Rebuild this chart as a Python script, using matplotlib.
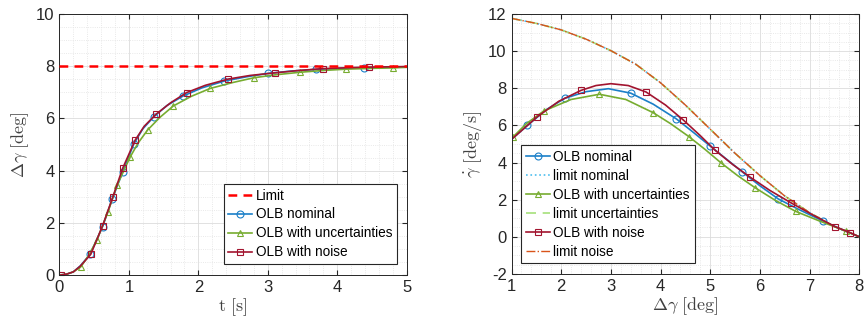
import matplotlib
matplotlib.use("Agg")
import matplotlib.pyplot as plt
from matplotlib.ticker import MultipleLocator

plt.rcParams['font.family'] = ['Liberation Sans', 'DejaVu Sans']
plt.rcParams['mathtext.fontset'] = 'cm'
plt.rcParams['axes.unicode_minus'] = False

# ---- Left: step response ----
limit_val = 8.0
t_nom = [0, 0.1, 0.2, 0.3, 0.44, 0.62, 0.76, 0.91, 1.07, 1.2, 1.36, 1.55, 1.78, 2.05, 2.37, 2.7, 3.01, 3.35, 3.70, 4.05, 4.39, 4.7, 5.0]
y_nom = [0, 0.03, 0.12, 0.35, 0.79, 1.85, 2.91, 3.95, 5.02, 5.6, 6.07, 6.5, 6.86, 7.17, 7.43, 7.6, 7.73, 7.82, 7.88, 7.92, 7.94, 7.96, 7.97]
m_nom = [4, 5, 6, 7, 8, 10, 12, 14, 16, 18, 20]

t_unc = [0, 0.1, 0.2, 0.31, 0.42, 0.54, 0.70, 0.83, 1.02, 1.13, 1.27, 1.45, 1.64, 1.9, 2.17, 2.5, 2.80, 3.1, 3.46, 3.8, 4.13, 4.5, 4.81, 5.0]
y_unc = [0, 0.03, 0.12, 0.32, 0.75, 1.34, 2.43, 3.45, 4.53, 5.05, 5.56, 6.05, 6.48, 6.85, 7.15, 7.38, 7.56, 7.67, 7.77, 7.84, 7.89, 7.92, 7.94, 7.96]
m_unc = [3, 5, 6, 7, 8, 10, 12, 14, 16, 18, 20, 22]

t_noi = [0.02, 0.1, 0.2, 0.3, 0.45, 0.62, 0.77, 0.91, 1.09, 1.22, 1.39, 1.6, 1.83, 2.1, 2.43, 2.75, 3.11, 3.45, 3.79, 4.1, 4.46, 4.75, 5.0]
y_noi = [0, 0.03, 0.12, 0.34, 0.79, 1.88, 3.0, 4.09, 5.17, 5.7, 6.16, 6.6, 6.99, 7.27, 7.51, 7.65, 7.75, 7.84, 7.91, 7.94, 7.97, 7.98, 7.99]
m_noi = [0, 4, 5, 6, 7, 8, 10, 12, 14, 16, 18, 20]

# ---- Right: phase plane ----
x_pnom = [1.0, 1.32, 1.7, 2.07, 2.5, 2.95, 3.40, 3.85, 4.32, 4.65, 4.99, 5.32, 5.65, 6.0, 6.37, 6.8, 7.27, 7.6, 8.0]
v_pnom = [5.25, 6.0, 6.85, 7.46, 7.82, 7.98, 7.74, 7.15, 6.35, 5.65, 4.91, 4.2, 3.49, 2.75, 2.04, 1.45, 0.85, 0.45, 0.0]
pm_nom = [1, 3, 6, 8, 10, 12, 14, 16]

x_punc = [1.03, 1.3, 1.65, 2.2, 2.77, 3.3, 3.85, 4.2, 4.57, 4.9, 5.21, 5.55, 5.90, 6.3, 6.72, 7.2, 7.74, 8.0]
v_punc = [5.38, 6.1, 6.78, 7.4, 7.68, 7.4, 6.69, 6.1, 5.4, 4.7, 4.0, 3.3, 2.65, 1.98, 1.37, 0.85, 0.3, 0.0]
pm_unc = [0, 2, 4, 6, 8, 10, 12, 14, 16]

x_pnoi = [1.0, 1.52, 1.95, 2.40, 2.7, 3.0, 3.35, 3.71, 4.1, 4.46, 4.8, 5.10, 5.45, 5.80, 6.2, 6.62, 7.05, 7.51, 7.82, 8.0]
v_pnoi = [5.25, 6.47, 7.3, 7.89, 8.15, 8.25, 8.15, 7.8, 7.1, 6.29, 5.45, 4.66, 3.9, 3.22, 2.5, 1.84, 1.2, 0.55, 0.22, 0.0]
pm_noi = [1, 3, 7, 9, 11, 13, 15, 17, 18]

x_lim = [1.0, 1.5, 2.0, 2.5, 3.0, 3.5, 4.0, 4.5, 5.0, 5.5, 6.0, 6.5, 7.0, 7.5, 8.0]
v_lim = [11.77, 11.5, 11.15, 10.65, 10.03, 9.3, 8.3, 7.1, 5.8, 4.5, 3.3, 2.2, 1.3, 0.55, 0.0]

C_BLUE = '#1A7FC8'
C_GREEN = '#77AC30'
C_RED = '#A2142F'
C_ORANGE = '#D95319'
C_LBLUE = '#4DBEEE'
C_LGREEN = '#A6E07A'
AXC = '#262626'

fig = plt.figure(figsize=(8.67, 3.28), dpi=100)
ax1 = fig.add_axes([0.0686, 0.1616, 0.4004, 0.7954])
ax2 = fig.add_axes([0.590, 0.165, 0.401, 0.792])

def style(ax, xmaj, xmin, ymaj, ymin):
    ax.xaxis.set_major_locator(MultipleLocator(xmaj))
    ax.xaxis.set_minor_locator(MultipleLocator(xmin))
    ax.yaxis.set_major_locator(MultipleLocator(ymaj))
    ax.yaxis.set_minor_locator(MultipleLocator(ymin))
    ax.grid(True, which='major', color='#DCDCDC', lw=0.6, ls='-')
    ax.grid(True, which='minor', color='#E2E2E2', lw=0.6, ls=':')
    ax.set_axisbelow(True)
    ax.tick_params(which='both', direction='in', top=True, right=True,
                   colors=AXC, labelsize=12, length=3.5)
    ax.tick_params(which='minor', length=0)
    for s in ax.spines.values():
        s.set_color(AXC)
        s.set_linewidth(0.7)

kw = dict(lw=1.2, ms=5, mfc='none', mew=0.8)
legkw = dict(fontsize=9.8, frameon=True, fancybox=False, framealpha=1, edgecolor=AXC,
             handlelength=1.75, handletextpad=0.25, borderpad=0.35, labelspacing=0.36,
             borderaxespad=0)

ax1.axhline(limit_val, color='#FF0000', ls=(0, (3.5, 2.5)), lw=1.8, label='Limit', zorder=5)
ax1.plot(t_nom, y_nom, color=C_BLUE, marker='o', markevery=m_nom, label='OLB nominal', **kw)
ax1.plot(t_unc, y_unc, color=C_GREEN, marker='^', markevery=m_unc, label='OLB with uncertainties', **kw)
ax1.plot(t_noi, y_noi, color=C_RED, marker='s', markevery=m_noi, label='OLB with noise', **kw)
ax1.set_xlim(0, 5)
ax1.set_ylim(0, 10)
style(ax1, 1, 0.2, 2, 0.5)
ax1.set_xlabel(r'$\mathrm{t}\ [\mathrm{s}]$', fontsize=13, color='#404040', labelpad=1)
ax1.set_ylabel(r'$\Delta\gamma\ [\mathrm{deg}]$', fontsize=13, color='#404040', labelpad=4)
leg1 = ax1.legend(loc='lower right', bbox_to_anchor=(0.972, 0.042), **legkw)
leg1.get_frame().set_linewidth(0.8)

ax2.plot(x_lim, v_lim, color=C_LBLUE, ls=':', lw=1.2, label='limit nominal')
ax2.plot(x_lim, v_lim, color=C_LGREEN, ls=(0, (6, 4)), lw=1.2, label='limit uncertainties')
ax2.plot(x_lim, v_lim, color=C_ORANGE, ls='-.', lw=1.0, label='limit noise')
ax2.plot(x_pnom, v_pnom, color=C_BLUE, marker='o', markevery=pm_nom, label='OLB nominal', **kw)
ax2.plot(x_punc, v_punc, color=C_GREEN, marker='^', markevery=pm_unc, label='OLB with uncertainties', **kw)
ax2.plot(x_pnoi, v_pnoi, color=C_RED, marker='s', markevery=pm_noi, label='OLB with noise', **kw)
ax2.set_xlim(1, 8)
ax2.set_ylim(-2, 12)
style(ax2, 1, 0.2, 2, 0.5)
ax2.set_xlabel(r'$\Delta\gamma\ [\mathrm{deg}]$', fontsize=13, color='#404040', labelpad=1)
ax2.set_ylabel(r'$\dot{\gamma}\ [\mathrm{deg/s}]$', fontsize=13, color='#404040', labelpad=2)

h, l = ax2.get_legend_handles_labels()
order = [3, 0, 4, 1, 5, 2]
leg2 = ax2.legend([h[i] for i in order], [l[i] for i in order], loc='lower left',
                  bbox_to_anchor=(0.028, 0.04), **legkw)
leg2.get_frame().set_linewidth(0.8)

fig.savefig('out.png', dpi=100)
